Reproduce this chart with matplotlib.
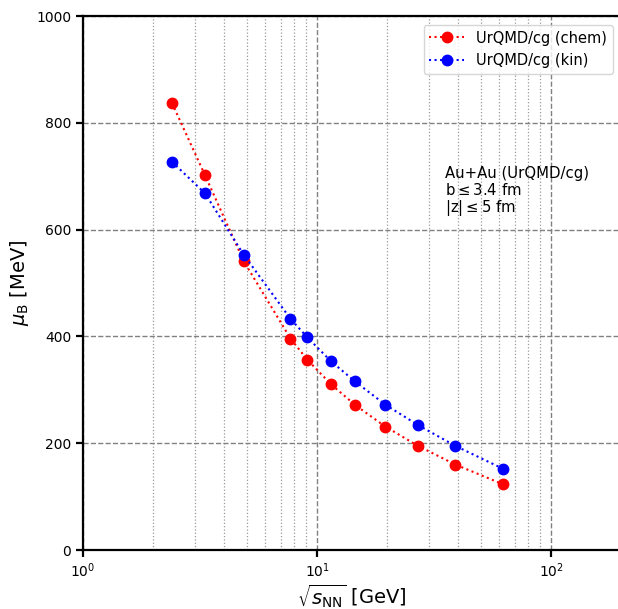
import matplotlib
matplotlib.use('Agg')
import matplotlib.pyplot as plt
import numpy as np

# collision energies, GeV
sqrt_s = [2.4, 3.32, 4.86, 7.7, 9.1, 11.5, 14.5, 19.6, 27, 39, 62.4]
# baryon chemical potential, MeV
mu_chem = [837, 702, 541, 396, 356, 310, 272, 231, 195, 160, 123]
mu_kin = [727, 668, 553, 433, 398, 353, 316, 272, 234, 195, 152]

fig = plt.figure(figsize=(6.18, 6.09), dpi=100)
ax = fig.add_axes([83/618, 59/609, 538.5/618, 534/609])

ax.plot(sqrt_s, mu_chem, 'o:', color='red', markersize=7.5, lw=1.5, label='UrQMD/cg (chem)')
ax.plot(sqrt_s, mu_kin, 'o:', color='blue', markersize=7.5, lw=1.5, label='UrQMD/cg (kin)')

ax.set_xscale('log')
ax.set_xlim(1, 200)
ax.set_ylim(0, 1000)
ax.set_yticks([0, 200, 400, 600, 800, 1000])

ax.grid(which='major', linestyle='--', color='gray', lw=1)
ax.grid(which='minor', axis='x', linestyle=':', color='gray', lw=0.9, alpha=0.8)

for s in ax.spines.values():
    s.set_linewidth(1.6)
ax.tick_params(which='major', width=1.6, length=5, labelsize=10)
ax.tick_params(which='minor', length=0)

ax.set_xlabel(r'$\sqrt{s_{\rm NN}}$ [GeV]', fontsize=14, labelpad=1)
ax.set_ylabel(r'$\mu_{\rm B}$ [MeV]', fontsize=14)

ax.text(35.2, 719, 'Au+Au (UrQMD/cg)\nb$\\leq$3.4 fm\n$|$z$|\\leq$5 fm',
        fontsize=10.7, va='top', ha='left', linespacing=1.05)

ax.legend(loc='upper right', fontsize=10.5, handlelength=2.4, borderaxespad=0.6)

plt.savefig('out.png', dpi=100)
plt.close()
